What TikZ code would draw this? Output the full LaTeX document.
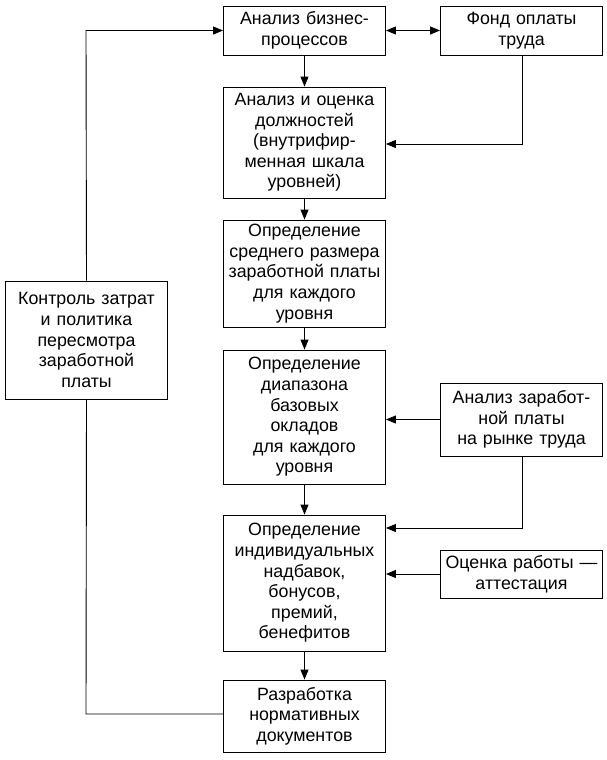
\documentclass[tikz,border=0pt]{standalone}
\usepackage{fontspec}
\setmainfont{Liberation Sans}
\usetikzlibrary{arrows.meta}
\begin{document}
\begin{tikzpicture}[x=1pt,y=-1pt,
  box/.style={draw,line width=0.9pt,align=center,inner sep=0pt,
    font=\fontsize{17.8}{20.6}\selectfont,text width=160pt,minimum width=162pt},
  conn/.style={line width=0.9pt},
  arr/.style={line width=0.9pt,-{Triangle[length=10pt,width=8pt]}},
  darr/.style={line width=0.9pt,{Triangle[length=10pt,width=8pt]}-{Triangle[length=10pt,width=8pt]}}]
\useasboundingbox (0,0) rectangle (606,760);
\node[box,minimum height=49pt] (b1) at (304.5,30.5) {Анализ бизнес-\\процессов};
\node[box,minimum height=49pt] (fond) at (521.5,30.5) {Фонд оплаты\\труда};
\node[box,minimum height=111pt] (b2) at (304.5,142.5) {Анализ и оценка\\должностей\\(внутрифир-\\менная шкала\\уровней)};
\node[box,minimum height=107pt] (b3) at (304.5,273.5) {Определение\\среднего размера\\заработной платы\\для каждого\\уровня};
\node[box,minimum height=134pt] (b4) at (304.5,417) {Определение\\диапазона\\базовых\\окладов\\для каждого\\уровня};
\node[box,minimum height=73pt] (rynok) at (521.5,419.5) {Анализ заработ-\\ной платы\\на рынке труда};
\node[box,minimum height=136pt] (b5) at (304.5,583) {Определение\\индивидуальных\\надбавок,\\бонусов,\\премий,\\бенефитов};
\node[box,minimum height=48pt] (ocenka) at (521.5,574) {Оценка работы —\\аттестация};
\node[box,minimum height=72pt] (b6) at (304.5,716) {Разработка\\нормативных\\документов};
\node[box,minimum height=118pt] (left) at (86.5,340) {Контроль затрат\\и политика\\пересмотра\\заработной\\платы};
\coordinate (c1) at (86,30.5);
\coordinate (c2) at (86,714);
\coordinate (c3) at (522,144);
\coordinate (c4) at (522,528);
\draw[darr] (b1.east) -- (fond.west);
\draw[arr] (b1) -- (b2);
\draw[arr] (b2) -- (b3);
\draw[arr] (b3) -- (b4);
\draw[arr] (b4) -- (b5);
\draw[arr] (b5) -- (b6);
\draw[arr] (fond.south -| c3) -- (c3) -- (c3 -| b2.east);
\draw[arr] (rynok.south -| c4) -- (c4) -- (c4 -| b5.east);
\draw[arr] (rynok.west) -- (rynok.west -| b4.east);
\draw[arr] (ocenka.west) -- (ocenka.west -| b5.east);
\draw[conn] (b6.west |- c2) -- (c2) -- (left.south);
\draw[arr] (left.north) -- (c1) -- (b1.west);
\end{tikzpicture}
\end{document}
